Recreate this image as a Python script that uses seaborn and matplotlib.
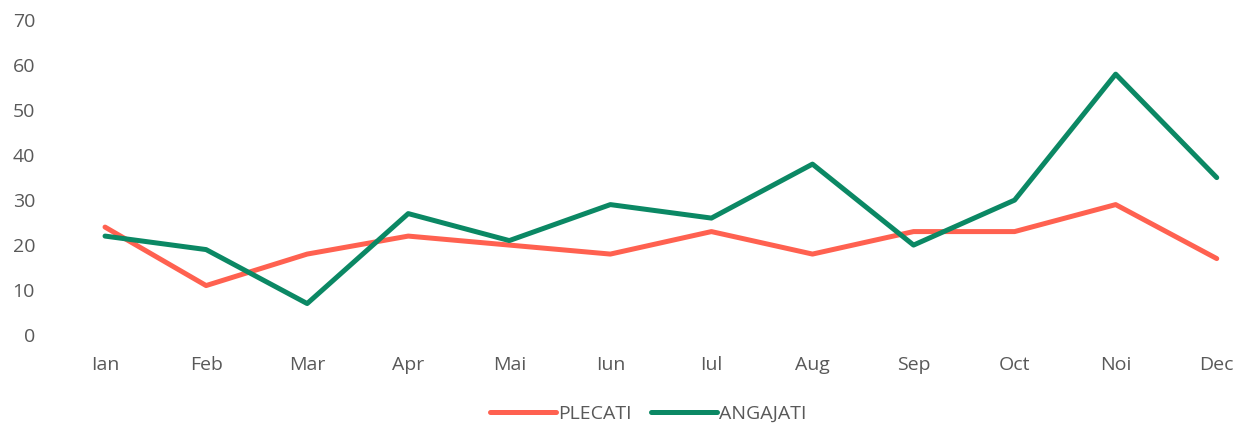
import matplotlib
matplotlib.use("Agg")
import matplotlib.pyplot as plt
import pandas as pd
import seaborn as sns

# ── data ──────────────────────────────────────────────────────────────────────
months   = ["Ian", "Feb", "Mar", "Apr", "Mai", "Iun", "Iul", "Aug", "Sep", "Oct", "Noi", "Dec"]
plecati  = [24, 11, 18, 22, 20, 18, 23, 18, 23, 23, 29, 17]
angajati = [22, 19, 7, 27, 21, 29, 26, 38, 20, 30, 58, 35]

df = pd.DataFrame({
    "luna": months * 2,
    "idx": list(range(len(months))) * 2,
    "valoare": plecati + angajati,
    "serie": ["PLECATI"] * len(months) + ["ANGAJATI"] * len(months),
})

# ── style ─────────────────────────────────────────────────────────────────────
sns.set_style("white")
plt.rcParams["font.family"] = ["Open Sans", "DejaVu Sans"]
TXT = "#595959"
palette = {"PLECATI": "#FF6150", "ANGAJATI": "#0B8864"}

fig = plt.figure(figsize=(12.5, 4.29), dpi=100)
ax = fig.add_axes([0.0436, 0.219, 0.950, 0.734])

sns.lineplot(data=df, x="idx", y="valoare", hue="serie", palette=palette,
             linewidth=3.6, ax=ax, legend=True)

ax.set_xlim(-0.5, 11.25)
ax.set_ylim(0, 70)
ax.set_xticks(range(len(months)))
ax.set_xticklabels(months)
ax.set_yticks(range(0, 71, 10))
ax.tick_params(axis="both", length=0, labelsize=14, labelcolor=TXT)
ax.tick_params(axis="y", pad=14)
ax.tick_params(axis="x", pad=15)
ax.set_xlabel("")
ax.set_ylabel("")
for s in ax.spines.values():
    s.set_visible(False)

handles, labels = ax.get_legend_handles_labels()
ax.legend(handles, labels, loc="upper center", bbox_to_anchor=(0.5, -0.165),
          ncol=2, frameon=False, fontsize=14, labelcolor=TXT,
          handlelength=3.4, handletextpad=0.1, columnspacing=1.0)

fig.savefig("out.png", dpi=100)
